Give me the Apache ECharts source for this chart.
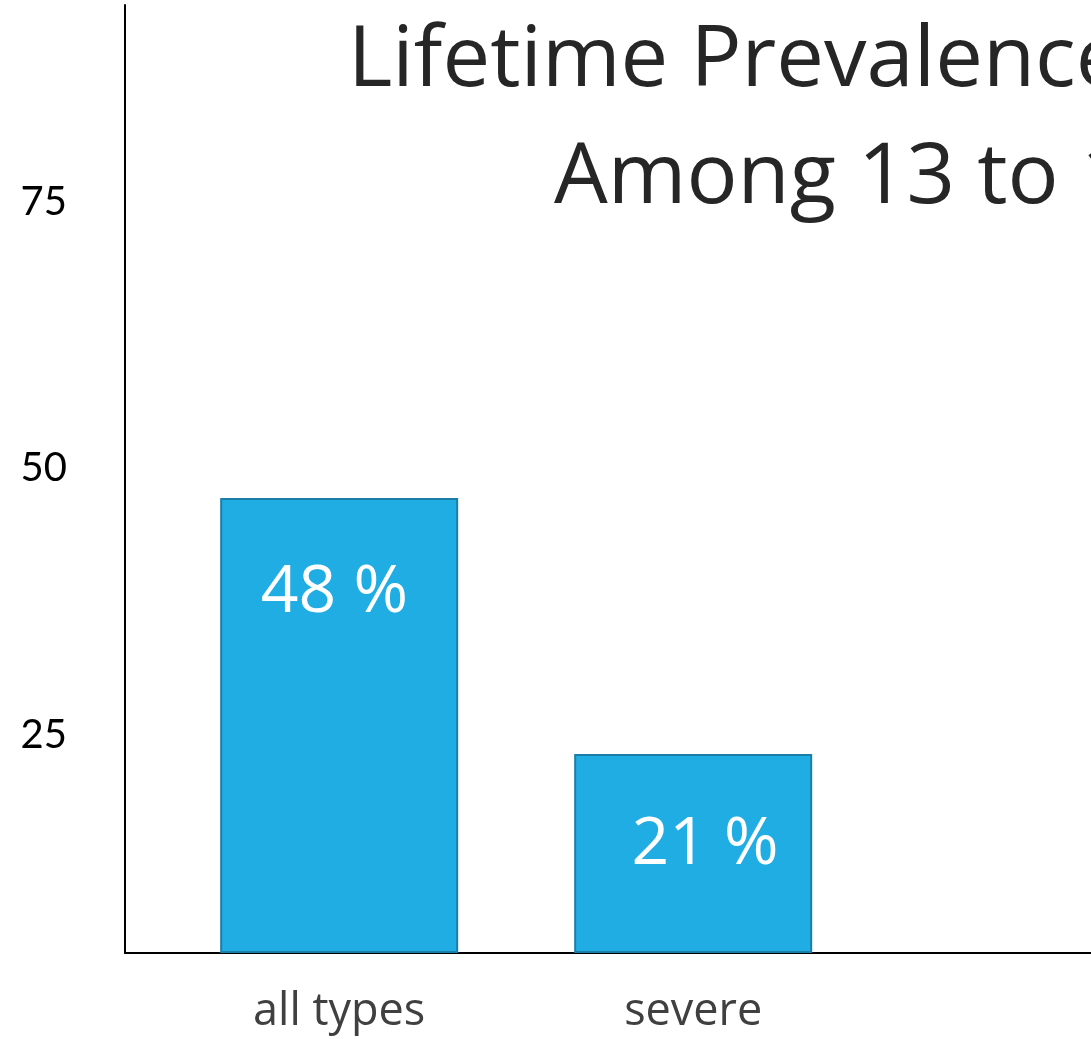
<!DOCTYPE html>
<html>
<head>
<meta charset="utf-8">
<script src="https://cdn.jsdelivr.net/npm/echarts@6/dist/echarts.min.js"></script>
<style>
  html, body { margin: 0; padding: 0; background: #fff; }
  #chart { width: 1091px; height: 1039px; }
</style>
</head>
<body>
<div id="chart"></div>
<script>
// Lifetime prevalence among 13 to 18 year olds
const categories = ['all types', 'severe'];
const prevalence = [48, 21];
const valueLabels = ['48 %', '21 %'];
const tickValues = [25, 50, 75];
const titleLines = ['Lifetime Prevalence', 'Among 13 to 18'];

const chart = echarts.init(document.getElementById('chart'), null, { renderer: 'canvas' });

// label anchor inside each bar: [horizontal, pixels below the bar top]
const labelAnchors = [['48%', 95], ['55%', 91]];

const titleStyle = { fontFamily: 'Open Sans', fontSize: 85, fontWeight: 'normal', color: '#262626' };

const option = {
  backgroundColor: '#ffffff',
  animation: false,
  title: [
    { text: titleLines[0], left: 343, top: 14, textStyle: titleStyle },
    { text: titleLines[1], left: 549, top: 131, textStyle: titleStyle }
  ],
  grid: {
    left: 125, top: 5, width: 993, bottom: 86,
    containLabel: false,
    outerBoundsMode: 'none'
  },
  xAxis: {
    type: 'value',
    min: -0.605,
    max: 2.2,
    axisLine: { show: true, onZero: false, lineStyle: { color: '#000', width: 2 } },
    axisTick: { show: false },
    splitLine: { show: false },
    axisLabel: {
      customValues: [0, 1],
      formatter: v => categories[Math.round(v)] || '',
      fontFamily: 'Open Sans', fontSize: 45, color: '#404040', margin: 37
    }
  },
  yAxis: [
    {
      type: 'value', min: 0, max: 100, position: 'left',
      axisLine: { show: true, onZero: false, lineStyle: { color: '#000', width: 2 } },
      axisTick: { show: false }, splitLine: { show: false },
      axisLabel: { show: false }
    },
    {
      type: 'value', min: 4.5, max: 93.5, position: 'left',
      axisLine: { show: false, onZero: false }, axisTick: { show: false }, splitLine: { show: false },
      axisLabel: {
        customValues: tickValues,
        fontFamily: 'Lato', fontSize: 40, color: '#000', margin: 58
      }
    }
  ],
  series: [{
    type: 'bar',
    yAxisIndex: 0,
    barWidth: 238,
    itemStyle: { color: '#1FADE4', borderColor: '#1A7EA6', borderWidth: 2 },
    label: {
      show: true,
      color: '#fff',
      fontFamily: 'Open Sans',
      fontSize: 66,
      align: 'center',
      verticalAlign: 'middle'
    },
    data: prevalence.map((v, i) => ({
      value: [i, v],
      label: {
        formatter: valueLabels[i],
        position: labelAnchors[i]
      }
    }))
  }]
};

chart.setOption(option);
</script>
</body>
</html>
